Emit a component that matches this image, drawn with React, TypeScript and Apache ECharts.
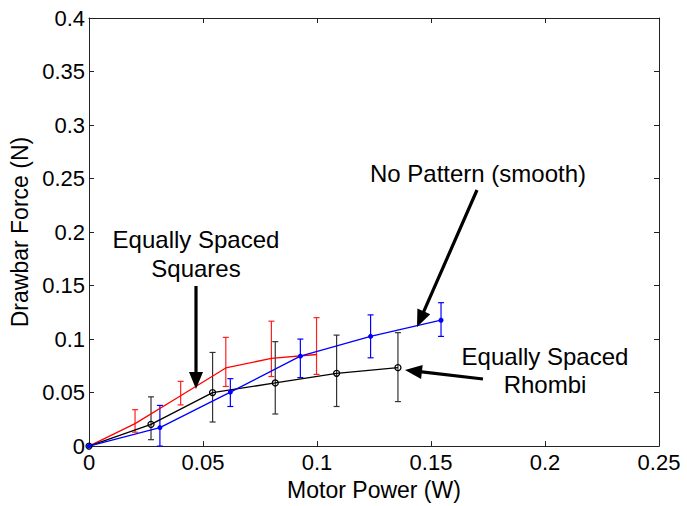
import React, { useEffect, useRef } from "react";
import * as echarts from "echarts";

// Equally Spaced Squares (red)
const squaresPower = [0, 0.0202, 0.0402, 0.06, 0.08, 0.0998];
const squaresForce = [0, 0.021, 0.047, 0.073, 0.082, 0.0856];
const squaresLow = [0, 0.013, 0.0385, 0.0557, 0.065, 0.067];
const squaresHigh = [0, 0.034, 0.0605, 0.1016, 0.1167, 0.12];

// Equally Spaced Rhombi (black)
const rhombiPower = [0, 0.0272, 0.0542, 0.0817, 0.1086, 0.1355];
const rhombiForce = [0, 0.0203, 0.05, 0.059, 0.068, 0.0733];
const rhombiLow = [0, 0.006, 0.0225, 0.03, 0.037, 0.0416];
const rhombiHigh = [0, 0.046, 0.0875, 0.0976, 0.1037, 0.106];

// No Pattern (smooth) (blue)
const smoothPower = [0, 0.0311, 0.062, 0.0927, 0.1235, 0.1544];
const smoothForce = [0, 0.0173, 0.0505, 0.084, 0.1025, 0.1176];
const smoothLow = [0, 0.0, 0.037, 0.064, 0.0825, 0.1025];
const smoothHigh = [0, 0.038, 0.063, 0.1, 0.1226, 0.134];

const xTicks = [0, 0.05, 0.1, 0.15, 0.2, 0.25];
const yTicks = [0, 0.05, 0.1, 0.15, 0.2, 0.25, 0.3, 0.35, 0.4];

const FONT = "Liberation Sans, Arial, sans-serif";

function arrow(x1: number, y1: number, x2: number, y2: number) {
  const dx = x2 - x1;
  const dy = y2 - y1;
  const len = Math.sqrt(dx * dx + dy * dy);
  const ux = dx / len;
  const uy = dy / len;
  const nx = -uy;
  const ny = ux;
  const w = 1.6;
  const L = 17;
  const H = 7;
  const bx = x2 - ux * L;
  const by = y2 - uy * L;
  return {
    type: "polygon",
    shape: {
      points: [
        [x1 + nx * w, y1 + ny * w],
        [bx + nx * w, by + ny * w],
        [bx + nx * H, by + ny * H],
        [x2, y2],
        [bx - nx * H, by - ny * H],
        [bx - nx * w, by - ny * w],
        [x1 - nx * w, y1 - ny * w],
      ],
    },
    style: { fill: "#000" },
    z: 100,
  };
}

function errorSeries(power: number[], low: number[], high: number[], color: string) {
  const data = power
    .map((p, i) => [p, low[i], high[i]])
    .filter((d, i) => i > 0);
  return {
    type: "custom",
    xAxisIndex: 0,
    yAxisIndex: 0,
    data,
    z: 2,
    renderItem: (params: any, api: any) => {
      const x = api.value(0);
      const lo = api.coord([x, api.value(1)]);
      const hi = api.coord([x, api.value(2)]);
      const cap = 3;
      const st = { stroke: color, lineWidth: 1.2 };
      return {
        type: "group",
        children: [
          { type: "line", shape: { x1: lo[0], y1: lo[1], x2: hi[0], y2: hi[1] }, style: st },
          { type: "line", shape: { x1: lo[0] - cap, y1: lo[1], x2: lo[0] + cap, y2: lo[1] }, style: st },
          { type: "line", shape: { x1: hi[0] - cap, y1: hi[1], x2: hi[0] + cap, y2: hi[1] }, style: st },
        ],
      };
    },
  };
}

export default function App() {
  const ref = useRef<HTMLDivElement>(null);
  useEffect(() => {
    if (!ref.current) return;
    const chart = echarts.init(ref.current, null, { renderer: "svg" });
    const axisCommon = {
      type: "value",
      interval: 0.05,
      axisLine: { show: true, onZero: false, lineStyle: { color: "#222", width: 1 } },
      axisTick: { show: true, inside: true, length: 5, lineStyle: { color: "#222" } },
      splitLine: { show: false },
    };
    const labelFmt = (v: number) => String(parseFloat(v.toFixed(3)));
    chart.setOption({
      animation: false,
      backgroundColor: "#fff",
      grid: { left: 89, right: 28, top: 18, bottom: 55, containLabel: false },
      xAxis: [
        {
          ...axisCommon,
          min: xTicks[0],
          max: xTicks[xTicks.length - 1],
          position: "bottom",
          name: "Motor Power (W)",
          nameLocation: "middle",
          nameGap: 27,
          nameTextStyle: { fontFamily: FONT, fontSize: 23, color: "#000" },
          axisLabel: { fontFamily: FONT, fontSize: 22, color: "#000", margin: 5, formatter: labelFmt },
        },
        {
          ...axisCommon,
          min: xTicks[0],
          max: xTicks[xTicks.length - 1],
          position: "top",
          axisLabel: { show: false },
        },
      ],
      yAxis: [
        {
          ...axisCommon,
          min: yTicks[0],
          max: yTicks[yTicks.length - 1],
          position: "left",
          name: "Drawbar Force (N)",
          nameLocation: "middle",
          nameGap: 52,
          nameTextStyle: { fontFamily: FONT, fontSize: 23, color: "#000" },
          axisLabel: { fontFamily: FONT, fontSize: 22, color: "#000", margin: 4, formatter: labelFmt },
        },
        {
          ...axisCommon,
          min: yTicks[0],
          max: yTicks[yTicks.length - 1],
          position: "right",
          axisLabel: { show: false },
        },
      ],
      series: [
        errorSeries(squaresPower, squaresLow, squaresHigh, "#ff2020"),
        errorSeries(rhombiPower, rhombiLow, rhombiHigh, "#333"),
        errorSeries(smoothPower, smoothLow, smoothHigh, "#0000ff"),
        {
          type: "line",
          name: "Equally Spaced Squares",
          data: squaresPower.map((p, i) => [p, squaresForce[i]]),
          showSymbol: false,
          symbol: "none",
          lineStyle: { color: "#ff0000", width: 1.3 },
          z: 3,
        },
        {
          type: "line",
          name: "Equally Spaced Rhombi",
          data: rhombiPower.map((p, i) => [p, rhombiForce[i]]),
          symbol: "circle",
          symbolSize: 6,
          itemStyle: { color: "rgba(0,0,0,0)", borderColor: "#000", borderWidth: 1.3 },
          lineStyle: { color: "#000", width: 1.3 },
          z: 4,
        },
        {
          type: "line",
          name: "No Pattern (smooth)",
          data: smoothPower.map((p, i) => [p, smoothForce[i]]),
          symbol: "circle",
          symbolSize: 5,
          itemStyle: { color: "#0000ff", borderWidth: 0 },
          lineStyle: { color: "#0000ff", width: 1.3 },
          z: 5,
        },
      ],
      graphic: [
        {
          type: "text",
          x: 196,
          y: 254,
          style: {
            text: "Equally Spaced\nSquares",
            fontFamily: FONT,
            fontSize: 24,
            lineHeight: 29,
            fill: "#000",
            align: "center",
            verticalAlign: "middle",
          },
          z: 100,
        },
        {
          type: "text",
          x: 478,
          y: 173,
          style: {
            text: "No Pattern (smooth)",
            fontFamily: FONT,
            fontSize: 24,
            fill: "#000",
            align: "center",
            verticalAlign: "middle",
          },
          z: 100,
        },
        {
          type: "text",
          x: 545,
          y: 370,
          style: {
            text: "Equally Spaced\nRhombi",
            fontFamily: FONT,
            fontSize: 24,
            lineHeight: 28,
            fill: "#000",
            align: "center",
            verticalAlign: "middle",
          },
          z: 100,
        },
        arrow(196, 286, 196, 389),
        arrow(477, 190, 417, 327),
        arrow(483, 379, 405, 370),
      ],
    });
    return () => chart.dispose();
  }, []);
  return (
    <div
      ref={ref}
      style={{ position: "fixed", left: 0, top: 0, width: 687, height: 506, background: "#fff" }}
    />
  );
}
